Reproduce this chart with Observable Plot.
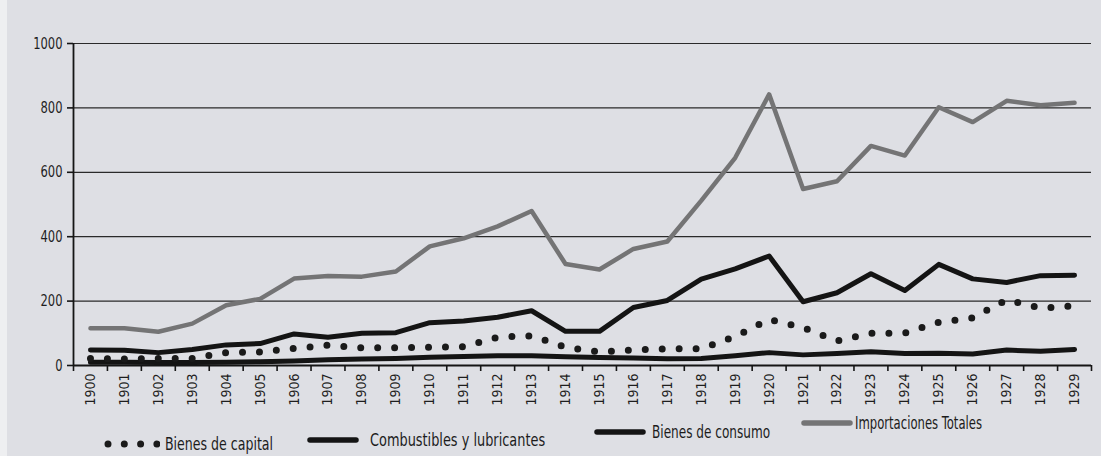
<!DOCTYPE html>
<html>
<head>
<meta charset="utf-8">
<script src="https://cdn.jsdelivr.net/npm/d3@7"></script>
<script src="https://cdn.jsdelivr.net/npm/@observablehq/plot@0.6"></script>
<style>
  html, body { margin: 0; padding: 0; background: #dedfe4; }
  #wrap { position: relative; width: 1101px; height: 456px; overflow: hidden; background: #dedfe4; }
  #strip { position: absolute; left: 0; top: 0; width: 7px; height: 456px; background: #eeeff1; }
  #chart { position: absolute; left: 0; top: 0; }
  #legend { position: absolute; left: 0; top: 0; width: 1101px; height: 456px; pointer-events: none;
            font-family: "Liberation Sans Narrow", "Arial Narrow", "DejaVu Sans Condensed", sans-serif;
            font-size: 17px; color: #1c1c1c; }
  .item { position: absolute; white-space: nowrap; height: 20px; }
  .item svg { position: absolute; left: 0; }
  .item span { position: absolute; display: inline-block; transform-origin: 0 50%; line-height: 20px; top: 0; }
</style>
</head>
<body>
<div id="wrap"><div id="strip"></div><div id="chart"></div><div id="legend"></div></div>
<script>
// ---- data ----
const years = [1900,1901,1902,1903,1904,1905,1906,1907,1908,1909,1910,1911,1912,1913,1914,
               1915,1916,1917,1918,1919,1920,1921,1922,1923,1924,1925,1926,1927,1928,1929];
const bienesCapital = [22,20,22,22,40,42,53,63,55,55,57,58,88,92,57,
                       42,48,52,52,90,143,118,76,100,101,134,148,204,178,185];
const combustibles = [10,10,9,9,10,12,14,18,20,22,26,28,30,30,27,
                      25,23,21,22,30,40,33,37,43,37,38,36,48,44,50];
const bienesConsumo = [48,47,40,50,64,68,98,88,100,102,133,138,150,170,106,
                       106,180,202,268,300,340,198,226,285,233,314,269,258,279,280];
const importTotales = [116,116,105,130,187,207,270,278,276,292,370,395,432,480,315,
                       298,362,385,512,645,842,548,572,682,652,802,756,822,808,816];
const yTicks = [0,200,400,600,800,1000];
const seriesNames = ["Bienes de capital","Combustibles y lubricantes","Bienes de consumo","Importaciones Totales"];

const rows = (vals) => years.map((year, i) => ({year, value: vals[i]}));
const boundaries = years.map(y => y - 0.5).concat([years[years.length - 1] + 0.5]);
const font = '"Liberation Sans Narrow", "Arial Narrow", "DejaVu Sans Condensed", sans-serif';

const chart = Plot.plot({
  width: 1101,
  height: 456,
  marginLeft: 73,
  marginRight: 10,
  marginTop: 43,
  marginBottom: 91,
  style: {background: "transparent", fontFamily: font, fontSize: "15px", color: "#1e1e1e", overflow: "visible"},
  x: {type: "linear", domain: [boundaries[0], boundaries[boundaries.length - 1]]},
  y: {domain: [0, 1000]},
  marks: [
    Plot.ruleY(yTicks.slice(1), {stroke: "#2a2a2a", strokeWidth: 1.2}),
    Plot.ruleY([0], {stroke: "#151515", strokeWidth: 1.8}),
    Plot.ruleX([boundaries[0]], {stroke: "#151515", strokeWidth: 1.8}),
    Plot.axisY({ticks: yTicks, tickSize: 6, tickPadding: 5, label: null, tickFormat: d => String(d),
                stroke: "#151515", strokeWidth: 1.6, fontSize: 16}),
    Plot.axisX({ticks: boundaries, tickSize: 6, tickFormat: () => "", label: null, stroke: "#151515", strokeWidth: 1.6}),
    Plot.axisX({ticks: years, tickSize: 0, tickPadding: 8, tickRotate: -90, label: null,
                tickFormat: d => String(d), fontSize: 14}),
    Plot.line(rows(combustibles), {x: "year", y: "value", stroke: "#141414", strokeWidth: 5,
                                   strokeLinejoin: "round", strokeLinecap: "round"}),
    Plot.line(rows(bienesCapital), {x: "year", y: "value", stroke: "#1a1a1a", strokeWidth: 7,
                                    strokeLinecap: "round", strokeDasharray: "0,16.95"}),
    Plot.line(rows(bienesConsumo), {x: "year", y: "value", stroke: "#141414", strokeWidth: 5,
                                    strokeLinejoin: "round", strokeLinecap: "round"}),
    Plot.line(rows(importTotales), {x: "year", y: "value", stroke: "#747475", strokeWidth: 4.5,
                                    strokeLinejoin: "round", strokeLinecap: "round"})
  ]
});
document.getElementById("chart").appendChild(chart);

// condense the y tick labels (the printed font is a condensed face)
d3.select(chart).selectAll('g[aria-label="y-axis tick label"] text').each(function () {
  const w = this.getComputedTextLength();
  this.setAttribute("textLength", (w * 0.8).toFixed(1));
  this.setAttribute("lengthAdjust", "spacingAndGlyphs");
});

// ---- legend (HTML below the plot area) ----
const legendSpecs = [
  {name: seriesNames[0], left: 104, top: 434, kind: "dots", color: "#1a1a1a", textLeft: 61, textWidth: 108},
  {name: seriesNames[1], left: 306, top: 430, kind: "line", color: "#141414", textLeft: 64, textWidth: 175},
  {name: seriesNames[2], left: 593, top: 422, kind: "line", color: "#141414", textLeft: 59, textWidth: 118},
  {name: seriesNames[3], left: 800, top: 413, kind: "line", color: "#747475", textLeft: 55, textWidth: 127}
];
const legend = document.getElementById("legend");
for (const s of legendSpecs) {
  const div = document.createElement("div");
  div.className = "item";
  div.style.left = s.left + "px";
  div.style.top = s.top + "px";
  let sw;
  if (s.kind === "dots") {
    sw = `<svg width="56" height="20"><line x1="4" y1="10" x2="54" y2="10" stroke="${s.color}" stroke-width="7" stroke-linecap="round" stroke-dasharray="0,16.3"/></svg>`;
  } else {
    sw = `<svg width="56" height="20"><line x1="4" y1="10" x2="50" y2="10" stroke="${s.color}" stroke-width="5.5" stroke-linecap="round"/></svg>`;
  }
  div.innerHTML = sw + `<span style="left:${s.textLeft}px">${s.name}</span>`;
  legend.appendChild(div);
  const span = div.querySelector("span");
  const w = span.getBoundingClientRect().width;
  span.style.transform = `scaleX(${(s.textWidth / w).toFixed(3)})`;
}
</script>
</body>
</html>
